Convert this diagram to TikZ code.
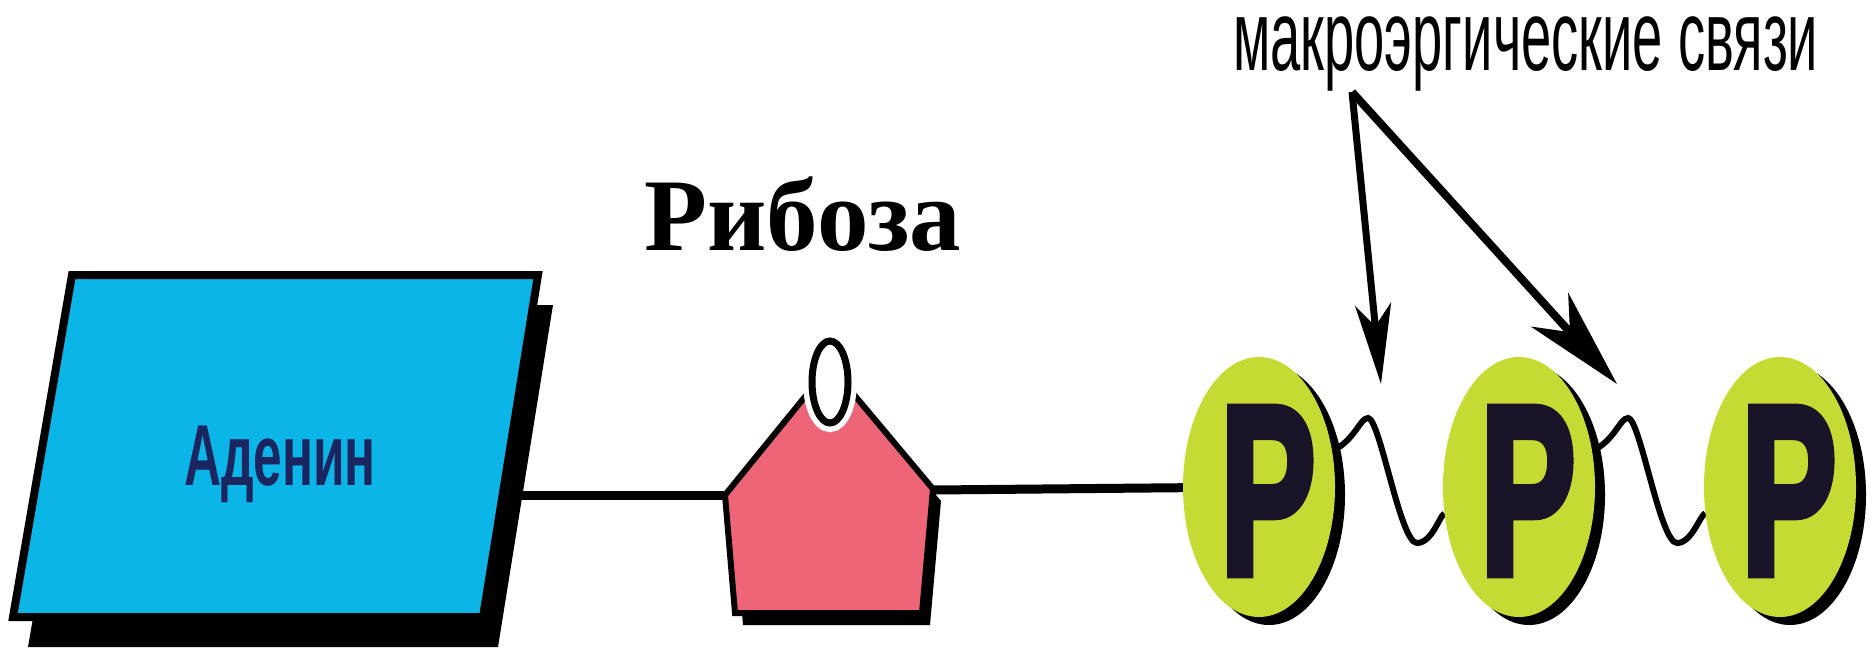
\documentclass[tikz,border=0pt]{standalone}
\usepackage{fontspec}
\usepackage{graphicx}
\usetikzlibrary{shapes.geometric,arrows.meta,shadows}
\newfontfamily\arialfont{Liberation Sans}
\newfontfamily\pfont[FakeBold=4]{Liberation Sans Bold}
\newfontfamily\timesfont{Liberation Serif}
\definecolor{adcyan}{HTML}{0BB5E8}
\definecolor{ribpink}{HTML}{EF6578}
\definecolor{pgreen}{HTML}{C6DA34}
\definecolor{navy}{HTML}{1B2660}
\definecolor{pdark}{HTML}{1A1428}
\pgfdeclarelayer{back}
\pgfsetlayers{back,main}
\begin{document}
\begin{tikzpicture}[x=1pt,y=-1pt,
  bond/.style={line width=9pt},
  wave/.style={line width=6pt},
  phos/.style={ellipse, fill=pgreen, minimum width=152pt, minimum height=260pt,
    inner sep=0pt,
    drop shadow={shadow xshift=10pt,shadow yshift=-8pt,fill=black,opacity=1}},
  ptext/.style={inner sep=0pt, text=pdark, xshift=9pt, yshift=-4pt},
  pointer/.style={line width=7pt},
]
\useasboundingbox (0,0) rectangle (1870,651);
% Adenine
\fill[black] (87,305) -- (553,305) -- (498,647) -- (28,647) -- cycle;
\filldraw[fill=adcyan, draw=black, line width=8pt, line join=miter]
  (72,275) -- (538,275) -- (483,617) -- (13,617) -- cycle;
\node[anchor=base, text=navy] (aden) at (280,485)
  {\resizebox{192pt}{\height}{\arialfont\bfseries\fontsize{86.6pt}{90pt}\selectfont Аденин}};
\coordinate (adR) at (500,495);
% Ribose
\fill[black] (733,507) -- (838,378) -- (941,501) -- (930,625) -- (743,625) -- cycle;
\filldraw[fill=ribpink, draw=black, line width=6pt, line join=miter]
  (725,495) -- (830,366) -- (933,489) -- (922,613) -- (735,613) -- cycle;
\draw[white, line width=18pt] (830,382) ellipse [x radius=18, y radius=41];
\filldraw[fill=white, draw=black, line width=7pt] (830,382) ellipse [x radius=18, y radius=41];
\coordinate (ribL) at (725,495);
\coordinate (ribR) at (933,490);
\node[anchor=base] (ribo) at (803,250)
  {\timesfont\bfseries\fontsize{103pt}{110pt}\selectfont Рибоза};
% Phosphates
\node[phos] (P1) at (1259,487) {};
\node[phos] (P2) at (1519,487) {};
\node[phos] (P3) at (1780,487) {};
\node[ptext] (L1) at (P1) {\resizebox{95pt}{165pt}{\pfont P}};
\node[ptext] (L2) at (P2) {\resizebox{95pt}{165pt}{\pfont P}};
\node[ptext] (L3) at (P3) {\resizebox{95pt}{165pt}{\pfont P}};
\coordinate (crest1) at (1368,418);
\coordinate (trough1) at (1417,543);
\coordinate (crest2) at (1628,418);
\coordinate (trough2) at (1677,543);
\begin{pgfonlayer}{back}
\draw[bond] (adR) -- (ribL);
\draw[bond] (ribR) -- (P1);
\draw[wave] (P1) .. controls (1355,440) and (1360,418) .. (crest1)
  .. controls (1380,418) and (1400,543) .. (trough1)
  .. controls (1432,543) and (1440,515) .. (P2);
\draw[wave] (P2) .. controls (1615,440) and (1620,418) .. (crest2)
  .. controls (1640,418) and (1660,543) .. (trough2)
  .. controls (1692,543) and (1700,515) .. (P3);
\end{pgfonlayer}
% label and pointers
\node[anchor=base west, inner sep=0pt] (macro) at (1233,70)
  {\resizebox{585pt}{\height}{\arialfont\fontsize{100pt}{100pt}\selectfont макроэргические связи}};
\coordinate (apex) at (1352,92);
\coordinate (tip1) at (1381,384);
\coordinate (tip2) at (1617,384);
\draw[pointer, -{Stealth[length=80pt,width=36pt,inset=22pt]}] (apex) -- (tip1);
\draw[pointer, line width=8pt, -{Stealth[length=100pt,width=50pt,inset=30pt]}] (apex) -- (tip2);
\end{tikzpicture}
\end{document}
